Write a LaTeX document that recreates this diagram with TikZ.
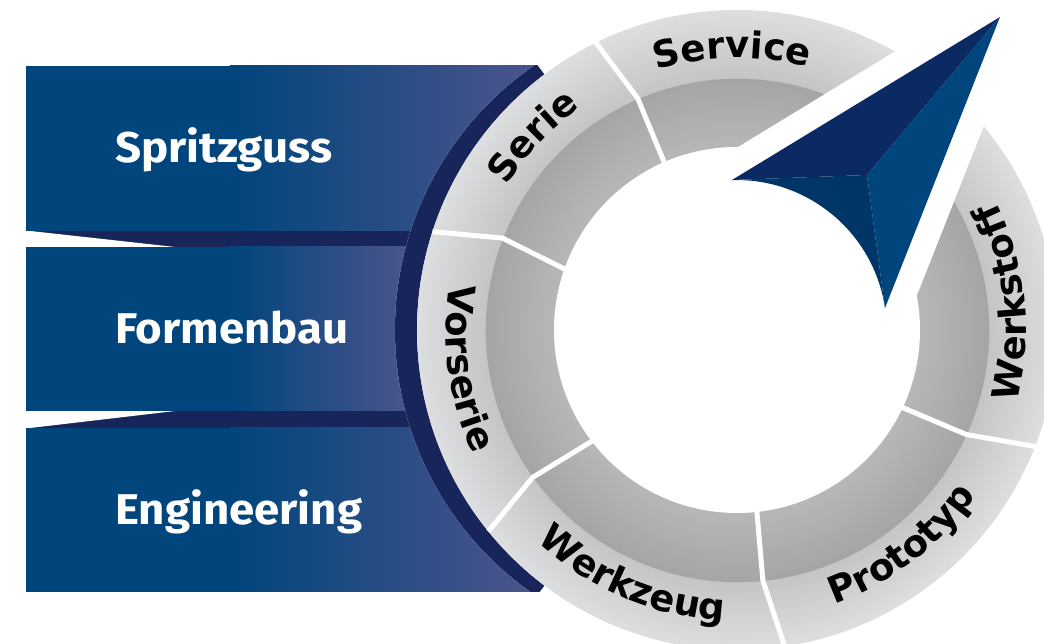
\documentclass[tikz,border=0pt]{standalone}
\usepackage{fontspec}
\usetikzlibrary{decorations.text}
\newfontfamily\ringfam{DejaVu Sans}
\newfontfamily\boxfam{Fira Sans}[FakeStretch=1.06]
\newcommand\ringfont{\ringfam\bfseries\fontsize{37}{40}\selectfont}
\definecolor{boxA}{RGB}{0,69,124}
\definecolor{boxB}{RGB}{76,84,140}
\definecolor{navyband}{RGB}{24,37,90}
\definecolor{arrowUp}{RGB}{11,42,99}
\definecolor{arrowRight}{RGB}{0,69,123}
\definecolor{arrowLow}{RGB}{0,53,103}
\definecolor{rinA}{RGB}{182,183,185}
\definecolor{rinB}{RGB}{164,165,167}
\definecolor{routA}{RGB}{196,197,199}
\definecolor{routB}{RGB}{221,222,224}
\pgfdeclareradialshading{ringshade}{\pgfpoint{0bp}{0bp}}{color(0bp)=(rinA); color(14.29bp)=(rinA); color(19.68bp)=(rinB); color(19.70bp)=(routA); color(25bp)=(routB); color(50bp)=(routB)}
\tikzset{
  sepline/.style={white, line width=5pt, line join=miter},
  boxlabel/.style={text=white, inner sep=0pt, anchor=base west, font=\boxfam\bfseries\fontsize{43}{48}\selectfont},
  ringtext/.style={decorate, decoration={text along path, text={|\ringfont|#1}, text align=center}}
}
\begin{document}
\begin{tikzpicture}[x=1pt,y=1pt]
\useasboundingbox (-737,-314) rectangle (307,330);
% ---------- left boxes (image coordinates) ----------
\begin{scope}[shift={(-737,330)}, yscale=-1]
  \fill[navyband] (26,231) rectangle (600,247);
  \fill[navyband] (26,411) rectangle (600,428);
  \fill[white] (26,230.5) -- (175,247) -- (26,247) -- cycle;
  \fill[white] (26,411) -- (175,411) -- (26,428.5) -- cycle;
  % box 1
  \fill[boxA] (26,66) rectangle (230.5,231);
  \shade[left color=boxA, right color=boxB] (230,66) rectangle (534,231);
  % box 2
  \fill[boxA] (26,247) rectangle (230.5,411);
  \shade[left color=boxA, right color=boxB] (230,247) rectangle (410,411);
  % box 3
  \fill[boxA] (26,428) rectangle (230.5,592);
  \shade[left color=boxA, right color=boxB] (230,428) rectangle (534,592);
  \node[boxlabel] (spritz) at (115,163) {Spritzguss};
  \node[boxlabel] (formen) at (115,344) {Formenbau};
  \node[boxlabel] (engin) at (115,525) {Engineering};
\end{scope}
% ---------- cut boxes with the navy crescent ----------
\fill[white] (-21,0) circle[radius=321pt];
\begin{scope}
  \clip (0,0) -- (127:700pt) -- (180:700pt) -- (233:700pt) -- cycle;
  \clip (-737,264) rectangle (0,-262);
  \fill[navyband, even odd rule] (-21,0) circle[radius=321pt] (0,0) circle[radius=320pt];
\end{scope}
% ---------- ring ----------
\shade[shading=ringshade] (0,0) circle[radius=320pt];
\fill[white] (0,0) circle[radius=183pt];
% separators
\draw[sepline] (160.8:176pt) -- (158.6:252pt) -- (162.1:320pt);
\draw[sepline] (113.5:176pt) -- (113.2:252pt) -- (116.2:322pt);
\draw[sepline] (217.7:176pt) -- (215.8:252pt) -- (219.0:320pt);
\draw[sepline] (276.3:176pt) -- (275.9:252pt) -- (278.7:324pt);
\draw[sepline] (334.8:176pt) -- (335.5:252pt) -- (338.8:324pt);
% gap for the arrow
\fill[white] (-18,171.4) -- (313.9,373.6) -- (171.3,12.8) -- (0,0) -- cycle;
% ---------- arrow ----------
\coordinate (T) at (263,313);
\coordinate (L) at (-5,150);
\coordinate (B) at (148,22);
\coordinate (C) at (130,155);
\fill[arrowUp] (T) -- (L) -- (C) -- cycle;
\fill[arrowRight] (T) -- (C) -- (B) -- cycle;
\fill[arrowLow] (L) -- (C) -- (B) arc[start angle=8.45, end angle=91.9, radius=150pt] -- cycle;
% ---------- ring labels ----------
\path[ringtext=Service] (136:272pt) arc[start angle=136, end angle=46, radius=272pt];
\path[ringtext=Serie] (181.5:272pt) arc[start angle=181.5, end angle=91.5, radius=272pt];
\path[ringtext=Vorserie] (143:291pt) arc[start angle=143, end angle=233, radius=291pt];
\path[ringtext=Werkzeug] (202:291pt) arc[start angle=202, end angle=292, radius=291pt];
\path[ringtext=Prototyp] (262.5:291pt) arc[start angle=262.5, end angle=352.5, radius=291pt];
\path[ringtext=Werkstoff] (-39:289pt) arc[start angle=-39, end angle=51, radius=289pt];
\end{tikzpicture}
\end{document}
